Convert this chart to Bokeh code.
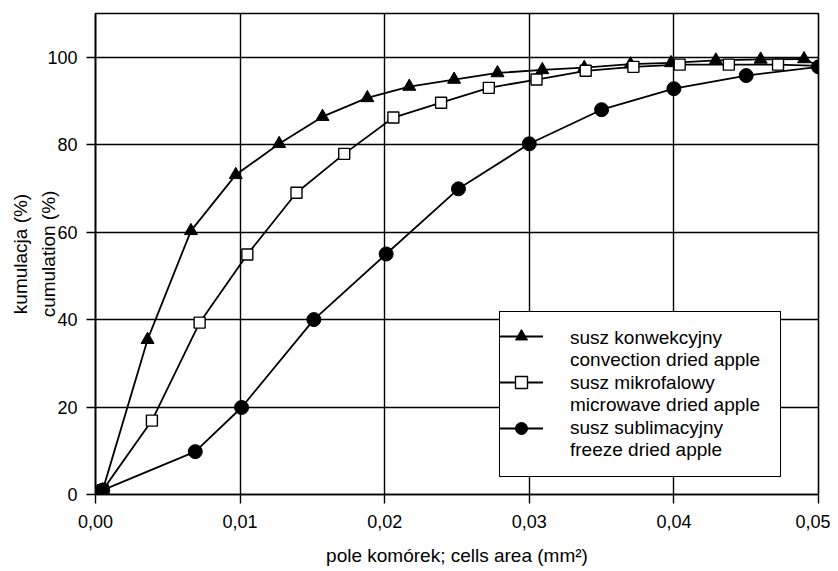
from bokeh.plotting import figure
from bokeh.models import Legend, LegendItem, FixedTicker, Range1d
from bokeh.embed import file_html
from bokeh.resources import INLINE

# --- data ---
conv_x = [0.0005, 0.0036, 0.0066, 0.0097, 0.0127, 0.0157, 0.0188, 0.0217, 0.0248,
          0.0278, 0.0309, 0.0338, 0.0370, 0.0398, 0.0429, 0.0460, 0.0490, 0.0500]
conv_y = [1.0, 35.4, 60.3, 73.1, 80.2, 86.4, 90.7, 93.3, 94.9,
          96.4, 97.1, 97.6, 98.4, 98.7, 99.3, 99.5, 99.6, 98.0]

micro_x = [0.0005, 0.0039, 0.0072, 0.0105, 0.0139, 0.0172, 0.0206, 0.0239, 0.0272,
           0.0305, 0.0339, 0.0372, 0.0404, 0.0438, 0.0472, 0.0500]
micro_y = [1.0, 16.9, 39.3, 54.9, 69.0, 77.9, 86.2, 89.6, 93.0,
           94.9, 96.9, 97.8, 98.3, 98.3, 98.3, 98.0]

freeze_x = [0.0005, 0.0069, 0.0101, 0.0151, 0.0201, 0.0251, 0.0300, 0.0350, 0.0400,
            0.0450, 0.0500]
freeze_y = [1.0, 9.8, 19.9, 40.0, 55.0, 69.9, 80.2, 88.0, 92.8, 95.8, 97.8]

x_ticks = [0.0, 0.01, 0.02, 0.03, 0.04, 0.05]
x_tick_labels = ["0,00", "0,01", "0,02", "0,03", "0,04", "0,05"]
y_ticks = [0, 20, 40, 60, 80, 100]

series_names_pl = ["susz konwekcyjny", "susz mikrofalowy", "susz sublimacyjny"]
series_names_en = ["convection dried apple", "microwave dried apple", "freeze dried apple"]

FONT = "Liberation Sans"

p = figure(width=830, height=571, output_backend="svg", toolbar_location=None,
           x_range=Range1d(0, 0.05), y_range=Range1d(0, 110),
           min_border_left=95, min_border_right=12, min_border_top=13,
           min_border_bottom=77)

p.background_fill_color = "white"
p.border_fill_color = "white"
p.outline_line_color = "black"
p.outline_line_width = 1.6
p.outline_line_alpha = 1.0

# grids
for g in (p.xgrid, p.ygrid):
    g.grid_line_color = "black"
    g.grid_line_width = 1.4
p.xgrid.ticker = FixedTicker(ticks=x_ticks)
p.ygrid.ticker = FixedTicker(ticks=y_ticks)

# axes
p.xaxis.ticker = FixedTicker(ticks=x_ticks)
p.xaxis.major_label_overrides = {t: l for t, l in zip(x_ticks, x_tick_labels)}
p.yaxis.ticker = FixedTicker(ticks=y_ticks)
for ax in (p.xaxis[0], p.yaxis[0]):
    ax.axis_line_color = "black"
    ax.axis_line_width = 1.6
    ax.major_tick_line_color = "black"
    ax.major_tick_line_width = 1.4
    ax.major_tick_out = 9
    ax.major_tick_in = 0
    ax.minor_tick_line_color = None
    ax.major_label_text_font = FONT
    ax.major_label_text_font_size = "18px"
    ax.major_label_text_color = "black"
    ax.axis_label_text_font = FONT
    ax.axis_label_text_font_size = "19px"
    ax.axis_label_text_font_style = "normal"
    ax.axis_label_text_color = "black"

p.xaxis.axis_label = "pole komórek; cells area (mm²)"
p.xaxis.major_label_standoff = 11
p.xaxis.axis_label_standoff = 14
p.yaxis.axis_label = "kumulacja (%)\ncumulation (%)"
p.yaxis.axis_label_text_line_height = 1.35
p.yaxis.major_label_standoff = 9
p.yaxis.axis_label_standoff = -15

# series
l1 = p.line(conv_x, conv_y, line_color="black", line_width=1.8)
m1 = p.scatter(conv_x[:-1], conv_y[:-1], marker="triangle", size=13,
               fill_color="black", line_color="black")
l2 = p.line(micro_x, micro_y, line_color="black", line_width=1.8)
m2 = p.scatter(micro_x[:-1], micro_y[:-1], marker="square", size=11,
               fill_color="white", line_color="black", line_width=1.4)
l3 = p.line(freeze_x, freeze_y, line_color="black", line_width=1.8)
m3 = p.scatter(freeze_x, freeze_y, marker="circle", size=14,
               fill_color="black", line_color="black")

# text legend (two-line labels, blank glyphs) with the frame
blank = p.line([], [], line_alpha=0)
legend_text = Legend(items=[LegendItem(label=a + "\n" + b, renderers=[blank])
                            for a, b in zip(series_names_pl, series_names_en)],
                     location=(404, 17))
legend_text.label_text_font = FONT
legend_text.label_text_font_size = "19px"
legend_text.label_text_color = "black"
legend_text.label_width = 195
legend_text.glyph_width = 44
legend_text.label_standoff = 11
legend_text.padding = 15
legend_text.spacing = 1
legend_text.margin = 0
legend_text.border_line_color = "black"
legend_text.border_line_width = 1.5
legend_text.border_line_alpha = 1.0
legend_text.background_fill_alpha = 1.0
p.add_layout(legend_text)

# glyph legend, beside the first line of each label
legend_glyph = Legend(items=[LegendItem(label=" ", renderers=rs)
                             for rs in [[l1, m1], [l2, m2], [l3, m3]]],
                      location=(404, 51))
legend_glyph.label_text_font = FONT
legend_glyph.label_text_font_size = "4px"
legend_glyph.label_height = 20
legend_glyph.label_width = 10
legend_glyph.glyph_height = 30
legend_glyph.glyph_width = 44
legend_glyph.label_standoff = 11
legend_glyph.padding = 15
legend_glyph.spacing = 16
legend_glyph.margin = 0
legend_glyph.border_line_color = None
legend_glyph.background_fill_alpha = 0
p.add_layout(legend_glyph)

open("out.html", "w").write(file_html(p, INLINE))
